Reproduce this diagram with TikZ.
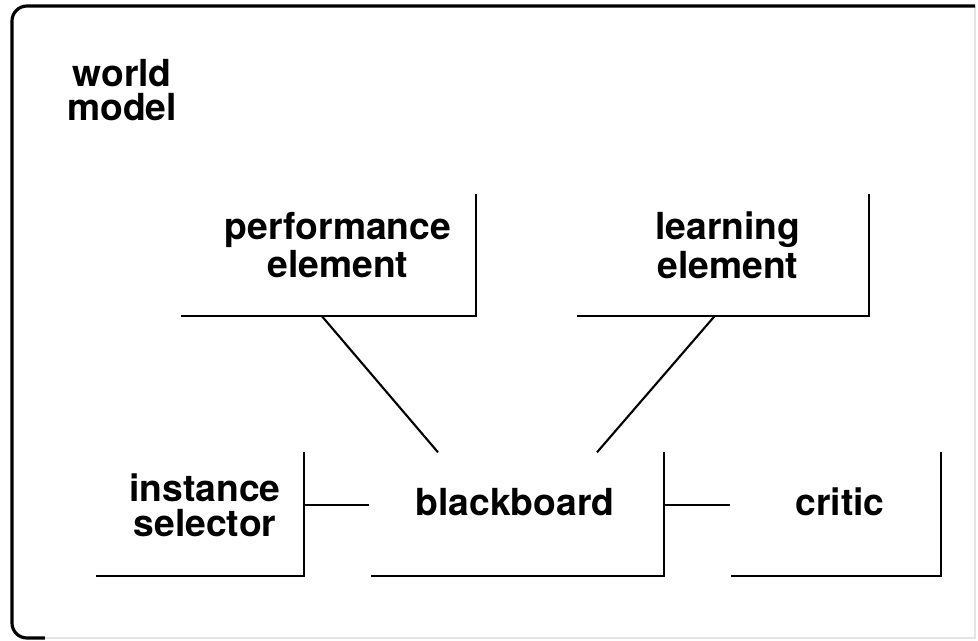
\documentclass[tikz,border=0pt]{standalone}
\usepackage{fontspec}
\setmainfont{TeX Gyre Heros}
\usepackage{xcolor}
\usepackage{tikz}
\usetikzlibrary{calc}

\begin{document}
\begin{tikzpicture}[scale=1,
  box/.style={minimum height=1.2cm, inner sep=0pt},
  lbl/.style={align=center, font=\fontsize{10.6}{9.9}\selectfont\bfseries},
  line/.style={line width=0.6pt}]
\useasboundingbox (0,0) rectangle (9.78,6.40);

% frame of the world model
\draw[gray!20, line width=0.4pt] (0.30,0.02) -- (9.75,0.02) -- (9.75,6.34);
\draw[line width=0.9pt, rounded corners=0.15cm] (9.75,6.34) -- (0.12,6.34) -- (0.12,0.02) -- (0.45,0.02);
\node[lbl] (world) at (1.22,5.50) {world\\model};

% boxes
\node[box, minimum width=2.93cm] (perf) at (3.285,3.85) {};
\node[box, minimum width=2.90cm] (learn) at (7.23,3.85) {};
\node[box, minimum width=2.06cm, minimum height=1.22cm] (inst) at (2.00,1.26) {};
\node[box, minimum width=2.91cm, minimum height=1.22cm] (black) at (5.175,1.26) {};
\node[box, minimum width=2.08cm, minimum height=1.22cm] (critic) at (8.36,1.26) {};

\foreach \n in {perf,learn,inst,black,critic}
  \draw[line] (\n.south west) -- (\n.south east) -- (\n.north east);

\node[lbl] (perf-t) at (3.38,3.95) {performance\\element};
\node[lbl] (learn-t) at (7.28,3.95) {learning\\element};
\node[lbl] (inst-t) at (2.05,1.35) {instance\\selector};
\node[lbl] (black-t) at (5.15,1.38) {blackboard};
\node[lbl] (critic-t) at (8.40,1.38) {critic};

% links
\draw[line] ([xshift=-0.07cm]perf.south) -- ([xshift=-0.795cm]black.north);
\draw[line] ([xshift=-0.08cm]learn.south) -- ([xshift=0.795cm]black.north);
\draw[line] ([yshift=0.09cm]inst.east) -- ([yshift=0.09cm,xshift=-0.02cm]black.west);
\draw[line] ([yshift=0.09cm]black.east) -- ([yshift=0.09cm,xshift=-0.01cm]critic.west);
\end{tikzpicture}
\end{document}
